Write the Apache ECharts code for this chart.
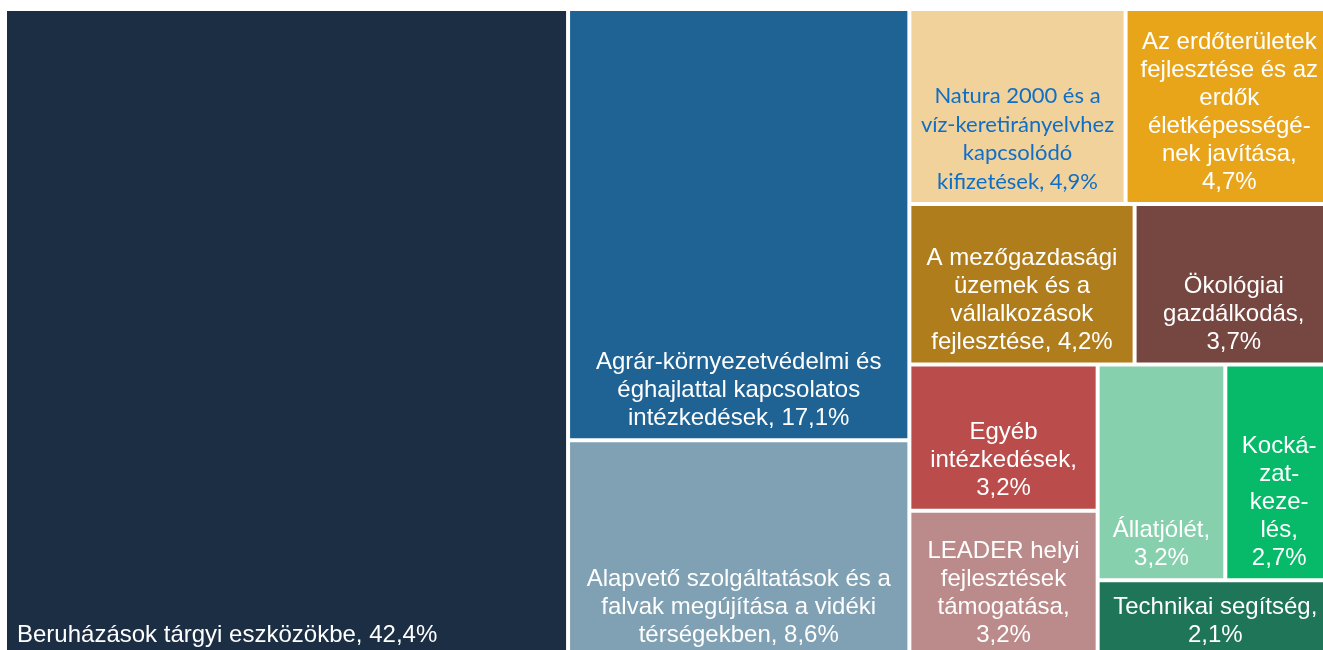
<!DOCTYPE html>
<html>
<head>
<meta charset="utf-8">
<script src="https://cdn.jsdelivr.net/npm/echarts@6/dist/echarts.min.js"></script>
<style>
  html, body { margin: 0; padding: 0; background: #fff; }
  #chart { width: 1323px; height: 650px; }
</style>
</head>
<body>
<div id="chart"></div>
<script>
// Category names, wrapped the way the original labels break
const names = [
  'Beruházások tárgyi eszközökbe',
  'Agrár-környezetvédelmi és\néghajlattal kapcsolatos\nintézkedések',
  'Alapvető szolgáltatások és a\nfalvak megújítása a vidéki\ntérségekben',
  'Natura 2000 és a\nvíz-keretirányelvhez\nkapcsolódó\nkifizetések',
  'Az erdőterületek\nfejlesztése és az\nerdők\néletképességé-\nnek javítása',
  'A mezőgazdasági\nüzemek és a\nvállalkozások\nfejlesztése',
  'Ökológiai\ngazdálkodás',
  'Egyéb\nintézkedések',
  'LEADER helyi\nfejlesztések\ntámogatása',
  'Állatjólét',
  'Kocká-\nzat-\nkeze-\nlés',
  'Technikai segítség'
];

// share of the budget, %  (already in descending order)
const values = [42.4, 17.1, 8.6, 4.9, 4.7, 4.2, 3.7, 3.2, 3.2, 3.2, 2.7, 2.1];

// what goes between "name," and the percentage
const valueBreaks = [' ', ' ', ' ', ' ', '\n', ' ', '\n', '\n', '\n', '\n', '\n', '\n'];

const palette = [
  '#1b2e44', '#1f6395', '#80a1b3', '#f1d29b', '#e8a51a', '#af7d1b',
  '#764640', '#ba4c4c', '#bb8a8a', '#86d0ae', '#06ba6a', '#1e7558'
];

const pct = v => v.toFixed(1).replace('.', ',') + '%';

const data = names.map((n, i) => {
  const item = {
    name: n,
    value: values[i],
    itemStyle: { color: palette[i] },
    label: { formatter: n + ',' + valueBreaks[i] + pct(values[i]) }
  };
  if (i === 0) {
    item.label.position = 'insideBottomLeft';
    item.label.align = 'left';
    item.label.distance = 7;
    item.label.offset = [-2, 6];
  }
  if (i === 3) {
    item.label.color = '#0f6ec6';
    item.label.fontFamily = 'Lato';
    item.label.fontSize = 22;
    item.label.lineHeight = 28.5;
  }
  return item;
});

const chart = echarts.init(document.getElementById('chart'));
chart.setOption({
  animation: false,
  series: [{
    type: 'treemap',
    left: 3,
    top: 7,
    width: 1332,
    height: 652,
    squareRatio: 1.09,
    sort: false,
    roam: false,
    nodeClick: false,
    breadcrumb: { show: false },
    itemStyle: { borderColor: '#fff', borderWidth: 2, gapWidth: 0 },
    label: {
      show: true,
      position: 'insideBottom',
      distance: 1,
      color: '#fff',
      fontFamily: 'Liberation Sans',
      fontSize: 24,
      lineHeight: 28,
      align: 'center',
      overflow: 'none'
    },
    data: data
  }]
});
</script>
</body>
</html>
